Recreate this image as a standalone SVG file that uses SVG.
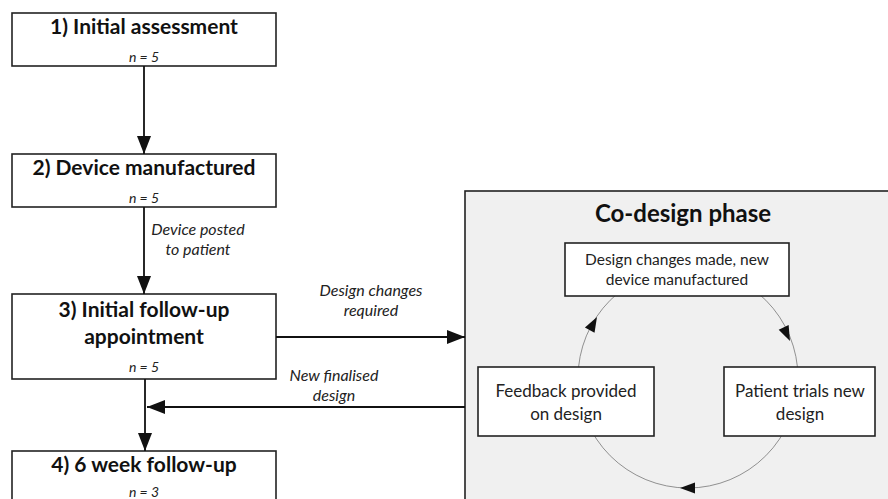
<svg xmlns="http://www.w3.org/2000/svg" width="888" height="499" viewBox="0 0 888 499">
  <defs>
    <marker id="arrow" markerUnits="userSpaceOnUse" markerWidth="18" markerHeight="14" refX="18" refY="7" orient="auto">
      <path d="M0,0 L18,7 L0,14 Z" fill="#111"/>
    </marker>
    <style>
      .box { fill: #fff; stroke: #222; stroke-width: 1.6; }
      .panel { fill: #f0f0f0; stroke: #222; stroke-width: 1.6; }
      .title { font-family: Lato, "Liberation Sans", sans-serif; font-weight: bold; font-size: 21px; fill: #111; text-anchor: middle; }
      .n { font-family: Lato, "Liberation Sans", sans-serif; font-style: italic; font-size: 14px; fill: #222; text-anchor: middle; }
      .lbl { font-family: Lato, "Liberation Sans", sans-serif; font-style: italic; font-size: 16px; fill: #222; text-anchor: middle; }
      .step { font-family: Lato, "Liberation Sans", sans-serif; font-size: 17px; fill: #222; text-anchor: middle; }
      .conn { fill: none; stroke: #111; stroke-width: 1.8; marker-end: url(#arrow); }
      .cycle { fill: none; stroke: #777; stroke-width: 0.8; }
      .head { fill: #111; }
    </style>
  </defs>

  <rect width="888" height="499" fill="#fff"/>

  <!-- co-design panel (drawn first, sits behind its inner steps) -->
  <g id="codesign-panel">
    <rect class="panel" x="465" y="191" width="440" height="330"/>
    <text class="title" x="683" y="222" style="font-size:24px">Co-design phase</text>
  </g>

  <!-- feedback loop inside the panel -->
  <g id="cycle">
    <circle class="cycle" cx="688" cy="378" r="110"/>
    <polygon class="head" points="0,0 -15,-5.5 -15,5.5" transform="translate(597,317) rotate(-61)"/>
    <polygon class="head" points="0,0 -15,-5.5 -15,5.5" transform="translate(790,341) rotate(65)"/>
    <polygon class="head" points="0,0 -15,-5.5 -15,5.5" transform="translate(680,488) rotate(180)"/>
  </g>

  <g id="step-changes">
    <rect class="box" x="565" y="243" width="224" height="53"/>
    <text class="step" x="677" y="265" style="font-size:15.5px">Design changes made, new</text>
    <text class="step" x="677" y="285" style="font-size:15.5px">device manufactured</text>
  </g>

  <g id="step-trials">
    <rect class="box" x="724" y="367" width="151" height="69"/>
    <text class="step" x="800" y="397">Patient trials new</text>
    <text class="step" x="800" y="420">design</text>
  </g>

  <g id="step-feedback">
    <rect class="box" x="478" y="367" width="176" height="69"/>
    <text class="step" x="566" y="397">Feedback provided</text>
    <text class="step" x="566" y="420">on design</text>
  </g>

  <!-- main pathway -->
  <g id="node-1">
    <rect class="box" x="12" y="13" width="264" height="53"/>
    <text class="title" x="144" y="34">1) Initial assessment</text>
    <text class="n" x="144" y="62">n = 5</text>
  </g>

  <g id="node-2">
    <rect class="box" x="12" y="154" width="264" height="53"/>
    <text class="title" x="144" y="175">2) Device manufactured</text>
    <text class="n" x="144" y="203">n = 5</text>
  </g>

  <g id="node-3">
    <rect class="box" x="12" y="294" width="264" height="85"/>
    <text class="title" x="144" y="317">3) Initial follow-up</text>
    <text class="title" x="144" y="344">appointment</text>
    <text class="n" x="144" y="372">n = 5</text>
  </g>

  <g id="node-4">
    <rect class="box" x="12" y="451" width="264" height="70"/>
    <text class="title" x="144" y="472">4) 6 week follow-up</text>
    <text class="n" x="144" y="497">n = 3</text>
  </g>

  <g id="connectors">
    <line class="conn" x1="144" y1="66" x2="144" y2="154"/>
    <line class="conn" x1="144" y1="207" x2="144" y2="294"/>
    <line class="conn" x1="276" y1="337" x2="465" y2="337"/>
    <line class="conn" x1="465" y1="407" x2="147" y2="407"/>
    <line class="conn" x1="145" y1="379" x2="145" y2="451"/>
    <text class="lbl" x="198" y="235">Device posted</text>
    <text class="lbl" x="198" y="255">to patient</text>
    <text class="lbl" x="371" y="296">Design changes</text>
    <text class="lbl" x="371" y="316">required</text>
    <text class="lbl" x="334" y="381">New finalised</text>
    <text class="lbl" x="334" y="401">design</text>
  </g>
</svg>
